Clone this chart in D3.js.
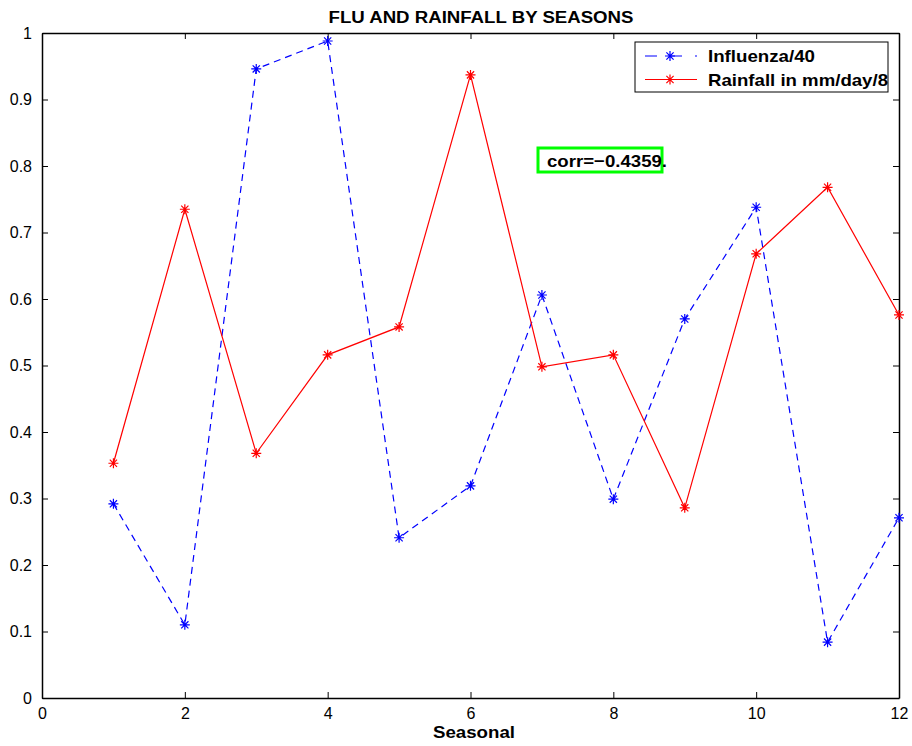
<!DOCTYPE html>
<html>
<head>
<meta charset="utf-8">
<script src="https://cdn.jsdelivr.net/npm/d3@7"></script>
<style>
  body { margin: 0; background: #fff; }
  text { font-family: "Liberation Sans", Arial, Helvetica, sans-serif; }
</style>
</head>
<body>
<svg id="chart" width="912" height="746"></svg>
<script>
// values
let seasons = [1, 2, 3, 4, 5, 6, 7, 8, 9, 10, 11, 12]
let influenza = [0.292, 0.110, 0.946, 0.988, 0.241, 0.319, 0.606, 0.299, 0.570, 0.738, 0.084, 0.271]
let rainfall = [0.353, 0.735, 0.368, 0.516, 0.558, 0.937, 0.498, 0.516, 0.286, 0.668, 0.768, 0.576]
let xTicks = [0, 2, 4, 6, 8, 10, 12]
let yTicks = [0, 0.1, 0.2, 0.3, 0.4, 0.5, 0.6, 0.7, 0.8, 0.9, 1]
let series = [
    { name: "Influenza/40", values: influenza, color: "#0000ff", dash: "7,5", textW: 107 },
    { name: "Rainfall in mm/day/8", values: rainfall, color: "#ff0000", dash: null, textW: 180 }
]
let corrLabel = "corr=\u22120.4359."

let margin = { left: 42, top: 33, right: 13, bottom: 48 }
let W = 912, H = 746
let svg = d3.select("#chart")

let x = d3.scaleLinear().domain([0, 12]).range([margin.left, W - margin.right])
let y = d3.scaleLinear().domain([0, 1]).range([H - margin.bottom, margin.top])

// axes with inward ticks, box all round
let tickLen = 6
svg.append("g")
    .attr("transform", `translate(0,${y(0)})`)
    .call(d3.axisBottom(x).tickValues(xTicks).tickSizeInner(-tickLen).tickSizeOuter(0).tickPadding(10).tickFormat(d3.format("d")))
svg.append("g")
    .attr("transform", `translate(0,${y(1)})`)
    .call(d3.axisTop(x).tickValues(xTicks).tickSizeInner(-tickLen).tickSizeOuter(0).tickFormat(""))
svg.append("g")
    .attr("transform", `translate(${x(0)},0)`)
    .call(d3.axisLeft(y).tickValues(yTicks).tickSizeInner(-tickLen).tickSizeOuter(0).tickPadding(10).tickFormat(d => d3.format("")(+d.toFixed(1))))
svg.append("g")
    .attr("transform", `translate(${x(12)},0)`)
    .call(d3.axisRight(y).tickValues(yTicks).tickSizeInner(-tickLen).tickSizeOuter(0).tickFormat(""))

svg.selectAll(".domain").attr("stroke", "#000").attr("stroke-width", 1.5)
svg.selectAll(".tick line").attr("stroke", "#000")
svg.selectAll(".tick text").attr("font-size", 16).attr("fill", "#000")
    .attr("font-family", "Liberation Sans, Arial, sans-serif")

// asterisk marker: plus + cross
function star(g, cx, cy, color) {
    let r = 5, d = r * 0.72
    g.append("path")
        .attr("d", `M${cx - r},${cy}H${cx + r}M${cx},${cy - r}V${cy + r}` +
            `M${cx - d},${cy - d}L${cx + d},${cy + d}M${cx - d},${cy + d}L${cx + d},${cy - d}`)
        .attr("stroke", color).attr("stroke-width", 1.2).attr("fill", "none")
}

let line = d3.line().x((d, i) => x(seasons[i])).y(d => y(d))

series.forEach(s => {
    let g = svg.append("g")
    g.append("path")
        .datum(s.values)
        .attr("d", line)
        .attr("fill", "none")
        .attr("stroke", s.color)
        .attr("stroke-width", 1.2)
        .attr("stroke-dasharray", s.dash)
    s.values.forEach((v, i) => star(g, x(seasons[i]), y(v), s.color))
})

// stretched text, the reference font runs wider than Liberation
function label(px, py, txt, size, w, anchor) {
    return svg.append("text").attr("x", px).attr("y", py)
        .attr("text-anchor", anchor || "start").attr("font-size", size).attr("font-weight", "bold")
        .attr("textLength", w).attr("lengthAdjust", "spacingAndGlyphs")
        .text(txt)
}

// title and x label
label(481, 23, "FLU AND RAINFALL BY SEASONS", 16, 305, "middle")
label(474, 738, "Seasonal", 17, 82, "middle")

// legend
let lg = svg.append("g")
lg.append("rect").attr("x", 635).attr("y", 42).attr("width", 253).attr("height", 50)
    .attr("fill", "#fff").attr("stroke", "#000").attr("stroke-width", 1)
series.forEach((s, i) => {
    let ly = 56 + i * 23.5
    lg.append("line").attr("x1", 645).attr("x2", 697).attr("y1", ly).attr("y2", ly)
        .attr("stroke", s.color).attr("stroke-width", 1.2).attr("stroke-dasharray", s.dash ? "12,13" : null)
    star(lg, 670, ly, s.color)
    label(708, ly + 6, s.name, 17, s.textW)
})

// correlation box
svg.append("rect").attr("x", 538).attr("y", 148).attr("width", 124).attr("height", 24)
    .attr("fill", "none").attr("stroke", "#00ff00").attr("stroke-width", 3)
label(547, 166.5, corrLabel, 17, 120)
</script>
</body>
</html>
